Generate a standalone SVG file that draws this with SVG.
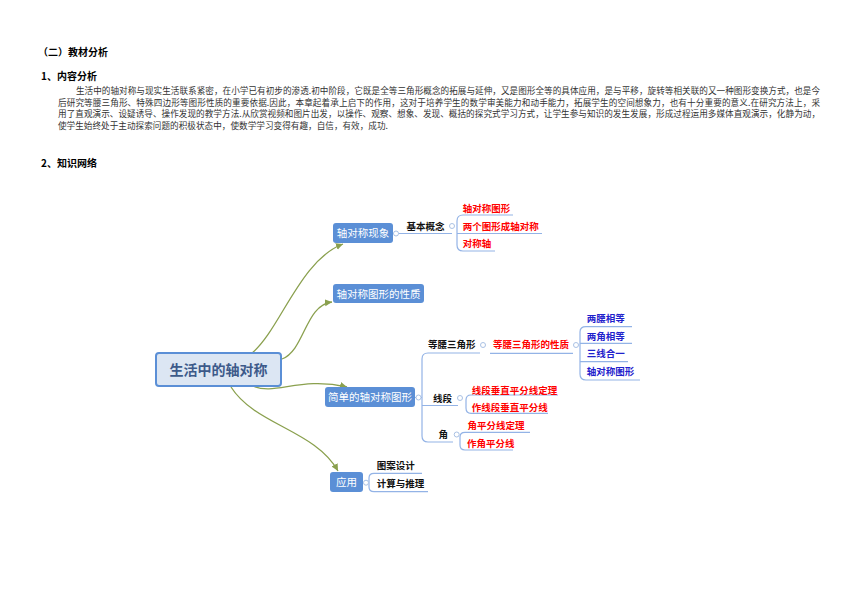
<svg xmlns="http://www.w3.org/2000/svg" width="860" height="608" viewBox="0 0 860 608">
<defs>
<style>
.h{font-family:"Noto Sans CJK SC","Liberation Sans",sans-serif;font-size:10px;font-weight:bold;fill:#000}
.p{font-family:"Noto Sans CJK SC","Liberation Serif",serif;font-size:8.6px;fill:#333}
.l1{fill:#5b8fd6}
.l1t{font-family:"Noto Sans CJK SC","Liberation Sans",sans-serif;font-size:10.5px;fill:#fff;text-anchor:middle}
.k{font-family:"Noto Sans CJK SC","Liberation Sans",sans-serif;font-size:9.5px;font-weight:bold;fill:#111}
.r{font-family:"Noto Sans CJK SC","Liberation Sans",sans-serif;font-size:9.5px;font-weight:bold;fill:#ff0000}
.b{font-family:"Noto Sans CJK SC","Liberation Sans",sans-serif;font-size:9.5px;font-weight:bold;fill:#1f22cc}
.ul{fill:none;stroke:#93b3e6;stroke-width:1.2}
.dot{fill:#fff;stroke:#a9c1e4;stroke-width:1}
.cv{fill:none;stroke:#8aa04e;stroke-width:1.3}
</style>
<marker id="ah" markerWidth="9" markerHeight="9" refX="7" refY="3.5" orient="auto" markerUnits="userSpaceOnUse">
<path d="M0,0 L7,3.5 L0,7 Z" fill="#8aa04e"/>
</marker>
</defs>
<rect width="860" height="608" fill="#fff"/>

<g id="text-section">
<text class="h" x="38" y="55.5">（二）教材分析</text>
<text class="h" x="41" y="79.5">1、内容分析</text>
<text class="p" x="76" y="94" textLength="744" lengthAdjust="spacing">生活中的轴对称与现实生活联系紧密，在小学已有初步的渗透.初中阶段，它既是全等三角形概念的拓展与延伸，又是图形全等的具体应用，是与平移，旋转等相关联的又一种图形变换方式，也是今</text>
<text class="p" x="58" y="105.5" textLength="762" lengthAdjust="spacing">后研究等腰三角形、特殊四边形等图形性质的重要依据.因此，本章起着承上启下的作用，这对于培养学生的数学审美能力和动手能力，拓展学生的空间想象力，也有十分重要的意义.在研究方法上，采</text>
<text class="p" x="58" y="117" textLength="762" lengthAdjust="spacing">用了直观演示、设疑诱导、操作发现的教学方法.从欣赏视频和图片出发，以操作、观察、想象、发现、概括的探究式学习方式，让学生参与知识的发生发展，形成过程运用多媒体直观演示，化静为动，</text>
<text class="p" x="58" y="128.5" textLength="330" lengthAdjust="spacing">使学生始终处于主动探索问题的积极状态中，使数学学习变得有趣，自信，有效，成功.</text>
<text class="h" x="41" y="167">2、知识网络</text>
</g>

<g id="connectors">
<path class="cv" d="M252,353 C280,330 300,260 343,244" marker-end="url(#ah)"/>
<path class="cv" d="M282,359 C305,350 305,305 332,302" marker-end="url(#ah)"/>
<path class="cv" d="M253,386 C275,396 300,376 347,387" marker-end="url(#ah)"/>
<path class="cv" d="M231,387 C255,425 315,430 338,471" marker-end="url(#ah)"/>
<path class="ul" d="M393,233.5 H452"/>
<path class="ul" d="M457,221 Q457,215 463,215 H513 M457,221 V245 Q457,251 463,251 H495 M457,233.5 H542"/>
<path class="ul" d="M422,359 Q422,353 428,353 H480 M422,359 V436 Q422,442 428,442 H453 M415,397.5 H422 M422,405.5 H458"/>
<path class="ul" d="M490,353.3 H573"/>
<path class="ul" d="M580,332 Q580,326.7 586,326.7 H632 M580,332 V374 Q580,380 586,380 H640 M580,343.3 H632 M580,361.7 H628"/>
<path class="ul" d="M466,400 Q466,395 471,395 H558 M466,400 V408 Q466,413.3 471,413.3 H548"/>
<path class="ul" d="M460,437 Q460,432.3 465,432.3 H530 M460,437 V445 Q460,450 465,450 H513"/>
<path class="ul" d="M369,478 Q369,473.3 374,473.3 H422 M369,478 V487 Q369,491.7 374,491.7 H428"/>
</g>

<g id="root">
<rect x="156" y="353" width="125" height="33" rx="3" fill="#dce6f3" stroke="#5b8fd6" stroke-width="2"/>
<text x="218.5" y="374.5" text-anchor="middle" style="font-family:'Noto Sans CJK SC','Liberation Sans',sans-serif;font-size:14px;font-weight:bold;fill:#3d5a8a">生活中的轴对称</text>
</g>

<g id="n-xianxiang">
<rect class="l1" x="333" y="223" width="60" height="20" rx="3"/>
<text class="l1t" x="363" y="237">轴对称现象</text>
<circle class="dot" cx="396" cy="233.5" r="2.5"/>
</g>
<g id="n-jibengainian">
<text class="k" x="406.5" y="229.5">基本概念</text>
<circle class="dot" cx="452" cy="226" r="2.5"/>
</g>
<g id="n-zhouduichentuxing1"><text class="r" x="462.7" y="212">轴对称图形</text></g>
<g id="n-lianggetuxing"><text class="r" x="462.7" y="229.5">两个图形成轴对称</text></g>
<g id="n-duichenzhou"><text class="r" x="462.7" y="247">对称轴</text></g>

<g id="n-xingzhi">
<rect class="l1" x="333" y="284" width="91" height="19" rx="3"/>
<text class="l1t" x="378.5" y="297.5">轴对称图形的性质</text>
</g>

<g id="n-jiandan">
<rect class="l1" x="325" y="387" width="90" height="20" rx="3"/>
<text class="l1t" x="370" y="401">简单的轴对称图形</text>
<circle class="dot" cx="418.5" cy="397.5" r="2.5"/>
</g>
<g id="n-dengyao">
<text class="k" x="428" y="348">等腰三角形</text>
<circle class="dot" cx="483" cy="345" r="2.5"/>
</g>
<g id="n-dengyaoxingzhi">
<text class="r" x="493" y="348">等腰三角形的性质</text>
<circle class="dot" cx="576" cy="345" r="2.5"/>
</g>
<g id="n-liangyao"><text class="b" x="586.7" y="322">两腰相等</text></g>
<g id="n-liangjiao"><text class="b" x="586.7" y="339.5">两角相等</text></g>
<g id="n-sanxian"><text class="b" x="586.7" y="357">三线合一</text></g>
<g id="n-zhouduichentuxing2"><text class="b" x="586.7" y="374.5">轴对称图形</text></g>
<g id="n-xianduan">
<text class="k" x="433" y="402">线段</text>
<circle class="dot" cx="460" cy="398" r="2.5"/>
</g>
<g id="n-xdchuizhi"><text class="r" x="471.7" y="393.5">线段垂直平分线定理</text></g>
<g id="n-zuoxd"><text class="r" x="471.7" y="411">作线段垂直平分线</text></g>
<g id="n-jiao">
<text class="k" x="438.5" y="438">角</text>
<circle class="dot" cx="456.7" cy="434.5" r="2.5"/>
</g>
<g id="n-jiaopingfen"><text class="r" x="467.5" y="428.5">角平分线定理</text></g>
<g id="n-zuojiao"><text class="r" x="467" y="446.5">作角平分线</text></g>

<g id="n-yingyong">
<rect class="l1" x="330" y="472" width="33" height="20" rx="3"/>
<text class="l1t" x="346.5" y="486">应用</text>
<circle class="dot" cx="366" cy="482.7" r="2.5"/>
</g>
<g id="n-tuan"><text class="k" x="376.7" y="468.5">图案设计</text></g>
<g id="n-jisuan"><text class="k" x="376.7" y="487">计算与推理</text></g>
</svg>
